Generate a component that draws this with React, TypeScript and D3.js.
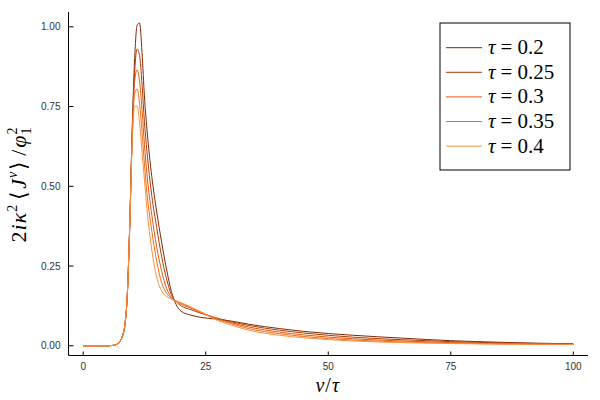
import React from "react";
import * as d3 from "d3";

const vt = [0, 5, 6, 7, 7.5, 8, 8.5, 9, 9.5, 10, 10.5, 11, 11.5, 12, 12.5, 13, 14, 15, 16, 17, 18, 19, 20, 22, 24, 27, 30, 34, 40, 45, 55, 65, 75, 85, 100];

const rise = [0, 0, 0.001, 0.006, 0.014, 0.03, 0.065, 0.16, 0.38];

const s020 = [...rise, 0.68, 0.90, 1.005, 1.012, 0.92, 0.78, 0.68, 0.53, 0.42, 0.325, 0.24, 0.17, 0.128, 0.108, 0.096, 0.089, 0.084, 0.078, 0.067, 0.054, 0.045, 0.033, 0.024, 0.016, 0.011, 0.006];
const s025 = [...rise, 0.67, 0.86, 0.93, 0.91, 0.82, 0.70, 0.61, 0.47, 0.37, 0.28, 0.21, 0.16, 0.138, 0.125, 0.113, 0.102, 0.088, 0.076, 0.063, 0.049, 0.040, 0.027, 0.019, 0.013, 0.009, 0.005];
const s030 = [...rise, 0.66, 0.83, 0.865, 0.83, 0.74, 0.63, 0.54, 0.41, 0.31, 0.235, 0.18, 0.152, 0.14, 0.13, 0.118, 0.105, 0.087, 0.073, 0.058, 0.043, 0.034, 0.022, 0.015, 0.010, 0.007, 0.005];
const s035 = [...rise, 0.65, 0.79, 0.805, 0.76, 0.67, 0.57, 0.48, 0.36, 0.265, 0.198, 0.165, 0.149, 0.14, 0.133, 0.12, 0.106, 0.085, 0.070, 0.053, 0.038, 0.029, 0.018, 0.012, 0.008, 0.006, 0.004];
const s040 = [...rise, 0.64, 0.75, 0.752, 0.70, 0.61, 0.52, 0.43, 0.30, 0.215, 0.172, 0.155, 0.146, 0.14, 0.135, 0.121, 0.106, 0.082, 0.066, 0.048, 0.033, 0.025, 0.015, 0.010, 0.007, 0.005, 0.004];

const seriesValues = [s020, s025, s030, s035, s040];
const seriesLabels = ["0.2", "0.25", "0.3", "0.35", "0.4"];
const seriesColors = ["#7f2704", "#b03a02", "#e05a0b", "#f06c18", "#fd8d3c"];

const xTicks = [0, 25, 50, 75, 100];
const yTicks = [0, 0.25, 0.5, 0.75, 1.0];

export default function App() {
  const W = 600, H = 400;
  const left = 68.5, right = 588, top = 12, bottom = 355.5;
  const x = d3.scaleLinear().domain([-3, 103]).range([left, right]);
  const y = d3.scaleLinear().domain([-0.0305, 1.0465]).range([bottom, top]);
  const line = d3
    .line<number>()
    .x((_, i) => x(vt[i]))
    .y((d) => y(d))
    .curve(d3.curveMonotoneX);

  const tickFont = "'Liberation Sans', Arial, Helvetica, sans-serif";
  const mathFont = "'Liberation Serif', 'Times New Roman', serif";

  const legX = 440, legY = 23, legW = 130, legH = 147;
  const legStep = 24.6;

  return (
    <svg
      width={W}
      height={H}
      style={{ position: "absolute", left: 0, top: 0, background: "#fff" }}
      xmlns="http://www.w3.org/2000/svg"
    >
      <rect x={0} y={0} width={W} height={H} fill="#fff" />
      <defs>
        <clipPath id="plotclip">
          <rect x={left} y={top} width={right - left} height={bottom - top} />
        </clipPath>
      </defs>
      <g clipPath="url(#plotclip)">
        {seriesValues.map((s, i) => (
          <path
            key={i}
            d={line(s) || ""}
            fill="none"
            stroke={seriesColors[i]}
            strokeWidth={1}
          />
        ))}
      </g>
      <line x1={left} x2={left} y1={top} y2={bottom} stroke="#000" strokeWidth={1} />
      <line x1={left} x2={right} y1={bottom} y2={bottom} stroke="#000" strokeWidth={1} />
      {xTicks.map((t) => (
        <g key={"xt" + t}>
          <line x1={x(t)} x2={x(t)} y1={bottom} y2={bottom - 4} stroke="#000" strokeWidth={1} />
          <text
            x={x(t)}
            y={bottom + 14}
            textAnchor="middle"
            fontFamily={tickFont}
            fontSize={10}
            fill="#333"
          >
            {t}
          </text>
        </g>
      ))}
      {yTicks.map((t) => (
        <g key={"yt" + t}>
          <line x1={left} x2={left + 5} y1={y(t)} y2={y(t)} stroke="#000" strokeWidth={1} />
          <text
            x={left - 8}
            y={y(t) + 3.5}
            textAnchor="end"
            fontFamily={tickFont}
            fontSize={10}
            fill="#333"
          >
            {t.toFixed(2)}
          </text>
        </g>
      ))}
      <text
        x={(left + right) / 2 - 1}
        y={392}
        textAnchor="middle"
        fontFamily={mathFont}
        fontSize={20}
        fill="#000"
      >
        <tspan fontStyle="italic">v</tspan>
        <tspan dx={1}>/</tspan>
        <tspan fontStyle="italic" dx={1}>τ</tspan>
      </text>
      <text
        transform={`translate(26, 185) rotate(-90)`}
        textAnchor="middle"
        fontFamily={mathFont}
        fontSize={22}
        fill="#000"
      >
        <tspan>2</tspan>
        <tspan fontStyle="italic" dx={1}>i</tspan>
        <tspan fontStyle="italic" dx={1}>κ</tspan>
        <tspan fontSize={14} dy={-9} dx={1}>2</tspan>
        <tspan dy={9} dx={5}>⟨</tspan>
        <tspan fontStyle="italic" dx={2}>J</tspan>
        <tspan fontStyle="italic" fontSize={14} dy={-9} dx={1}>v</tspan>
        <tspan dy={9} dx={2}>⟩</tspan>
        <tspan dx={5}>/</tspan>
        <tspan fontStyle="italic" dx={2}>φ</tspan>
        <tspan fontSize={14} dy={-9} dx={1}>2</tspan>
        <tspan fontSize={14} dy={14} dx={-7}>1</tspan>
      </text>
      <rect x={legX} y={legY} width={legW} height={legH} fill="#fff" stroke="#000" strokeWidth={1} />
      {seriesLabels.map((lab, i) => {
        const ly = legY + 24.7 + i * legStep;
        return (
          <g key={"lg" + i}>
            <line x1={legX + 6} x2={legX + 42} y1={ly} y2={ly} stroke={seriesColors[i]} strokeWidth={1} />
            <text x={legX + 48} y={ly + 6.5} fontFamily={mathFont} fontSize={21} fill="#000">
              <tspan fontStyle="italic">τ</tspan>
              <tspan dx={5}>=</tspan>
              <tspan dx={5}>{lab}</tspan>
            </text>
          </g>
        );
      })}
    </svg>
  );
}
